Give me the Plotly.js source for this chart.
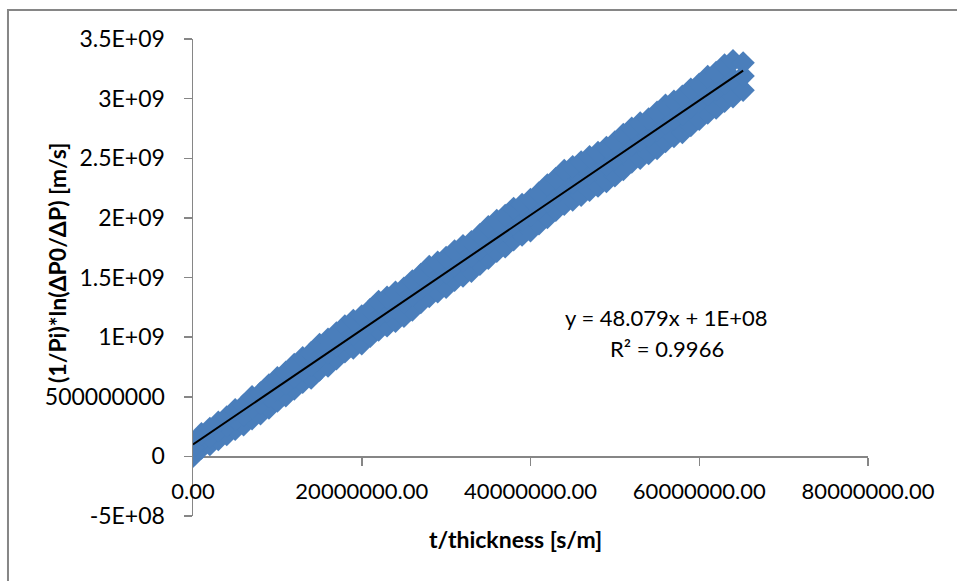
<!DOCTYPE html>
<html>
<head>
<meta charset="utf-8">
<script src="https://cdn.plot.ly/plotly-3.0.1.min.js"></script>
<style>html,body{margin:0;padding:0;background:#fff;}#chart{width:957px;height:581px;}</style>
</head>
<body>
<div id="chart"></div>
<script>
// t/thickness [s/m]
const xVals = [0,1e6,2e6,3e6,4e6,5e6,6e6,7e6,8e6,9e6,10e6,11e6,12e6,13e6,14e6,15e6,16e6,17e6,18e6,19e6,20e6,21e6,22e6,23e6,24e6,25e6,26e6,27e6,28e6,29e6,30e6,31e6,32e6,33e6,34e6,35e6,36e6,37e6,38e6,39e6,40e6,41e6,42e6,43e6,44e6,45e6,46e6,47e6,48e6,49e6,50e6,51e6,52e6,53e6,54e6,55e6,56e6,57e6,58e6,59e6,60e6,61e6,62e6,63e6,64e6,65.2e6];
// (1/Pi)*ln(dP0/dP) [m/s] — middle, upper and lower parts of the scatter band
const yMid = [0.030e9,0.128e9,0.166e9,0.214e9,0.257e9,0.310e9,0.348e9,0.407e9,0.445e9,0.503e9,0.561e9,0.609e9,0.667e9,0.725e9,0.763e9,0.831e9,0.869e9,0.927e9,0.985e9,1.024e9,1.062e9,1.120e9,1.178e9,1.216e9,1.254e9,1.292e9,1.350e9,1.408e9,1.466e9,1.504e9,1.542e9,1.600e9,1.639e9,1.677e9,1.735e9,1.793e9,1.851e9,1.889e9,1.947e9,1.985e9,2.023e9,2.081e9,2.139e9,2.197e9,2.255e9,2.294e9,2.332e9,2.370e9,2.408e9,2.446e9,2.494e9,2.552e9,2.610e9,2.648e9,2.686e9,2.734e9,2.792e9,2.830e9,2.869e9,2.927e9,2.975e9,3.033e9,3.071e9,3.129e9,3.167e9,3.190e9];
const yUpper = [0.075e9,0.190e9,0.235e9,0.287e9,0.330e9,0.392e9,0.430e9,0.500e9,0.532e9,0.600e9,0.660e9,0.706e9,0.770e9,0.828e9,0.870e9,0.938e9,0.982e9,1.035e9,1.093e9,1.140e9,1.178e9,1.232e9,1.300e9,1.334e9,1.377e9,1.410e9,1.472e9,1.526e9,1.593e9,1.628e9,1.668e9,1.722e9,1.766e9,1.800e9,1.858e9,1.925e9,1.978e9,2.020e9,2.080e9,2.113e9,2.155e9,2.208e9,2.277e9,2.330e9,2.398e9,2.430e9,2.470e9,2.512e9,2.548e9,2.590e9,2.636e9,2.700e9,2.752e9,2.795e9,2.830e9,2.886e9,2.944e9,2.978e9,3.020e9,3.080e9,3.122e9,3.185e9,3.220e9,3.282e9,3.318e9,3.300e9];
const yLower = [0.000e9,0.070e9,0.100e9,0.142e9,0.184e9,0.228e9,0.265e9,0.315e9,0.357e9,0.405e9,0.463e9,0.508e9,0.565e9,0.622e9,0.656e9,0.724e9,0.757e9,0.818e9,0.876e9,0.908e9,0.945e9,1.006e9,1.060e9,1.094e9,1.133e9,1.174e9,1.228e9,1.290e9,1.340e9,1.381e9,1.418e9,1.477e9,1.512e9,1.553e9,1.611e9,1.662e9,1.720e9,1.757e9,1.816e9,1.855e9,1.892e9,1.950e9,2.003e9,2.064e9,2.114e9,2.150e9,2.190e9,2.232e9,2.266e9,2.304e9,2.352e9,2.405e9,2.468e9,2.500e9,2.540e9,2.582e9,2.640e9,2.682e9,2.716e9,2.775e9,2.826e9,2.880e9,2.922e9,2.978e9,3.015e9,3.070e9];

// Excel linear trendline
const trendSlope = 48.079;
const trendIntercept = 1e8;
const equationText = "y = 48.079x + 1E+08";
const r2Text = "R² = 0.9966";

const xTickVals = [0, 20000000, 40000000, 60000000, 80000000];
const xTickText = ["0.00", "20000000.00", "40000000.00", "60000000.00", "80000000.00"];
const yTickVals = [-5e8, 0, 5e8, 1e9, 1.5e9, 2e9, 2.5e9, 3e9, 3.5e9];
const yTickText = ["-5E+08", "0", "500000000", "1E+09", "1.5E+09", "2E+09", "2.5E+09", "3E+09", "3.5E+09"];

const xTitle = "t/thickness [s/m]";
const yTitle = "(1/Pi)*ln(ΔP0/ΔP) [m/s]";

const allX = xVals.concat(xVals, xVals);
const allY = yLower.concat(yMid, yUpper);
const xMin = Math.min(...xVals), xMax = Math.max(...xVals);

const FONT = "Lato, 'Open Sans', sans-serif";
const BLUE = "#4a7ebb";
const AXIS = "#868686";

const traces = [
  {
    x: allX, y: allY, type: "scatter", mode: "markers",
    marker: {symbol: "diamond", size: 18, color: BLUE, line: {width: 0}},
    hoverinfo: "skip", showlegend: false
  },
  {
    x: [xMin, xMax],
    y: [trendSlope * xMin + trendIntercept, trendSlope * xMax + trendIntercept],
    type: "scatter", mode: "lines",
    line: {color: "#000000", width: 2},
    hoverinfo: "skip", showlegend: false
  }
];

const layout = {
  width: 957, height: 581,
  margin: {l: 193, r: 89, t: 39, b: 65, pad: 0},
  paper_bgcolor: "#ffffff", plot_bgcolor: "#ffffff",
  font: {family: FONT, size: 22, color: "#000000"},
  showlegend: false,
  xaxis: {
    range: [0, 80000000], anchor: "free", position: 0.125,
    showgrid: false, zeroline: false,
    showline: true, linecolor: AXIS, linewidth: 1.5,
    ticks: "outside", ticklen: 8, tickwidth: 1.5, tickcolor: AXIS,
    tickvals: xTickVals, ticktext: xTickText,
    tickfont: {family: FONT, size: 22, color: "#000"},
    ticklabelstandoff: 7,
    layer: "below traces"
  },
  yaxis: {
    range: [-5e8, 3.5e9],
    showgrid: false, zeroline: false,
    showline: true, linecolor: AXIS, linewidth: 1.5,
    ticks: "outside", ticklen: 8, tickwidth: 1.5, tickcolor: AXIS,
    tickvals: yTickVals, ticktext: yTickText,
    tickfont: {family: FONT, size: 23, color: "#000"},
    ticklabelstandoff: 14,
    layer: "below traces"
  },
  shapes: [
    {type: "rect", xref: "paper", yref: "paper", x0: -0.2741, x1: 2, y0: -2, y1: 1.0608,
     line: {color: AXIS, width: 2}, fillcolor: "rgba(0,0,0,0)", layer: "below"}
  ],
  annotations: [
    {text: equationText, xref: "paper", yref: "paper", x: 0.7022, y: 0.4151,
     xanchor: "center", yanchor: "middle", showarrow: false, font: {family: FONT, size: 22, color: "#000"}},
    {text: r2Text, xref: "paper", yref: "paper", x: 0.7022, y: 0.3522,
     xanchor: "center", yanchor: "middle", showarrow: false, font: {family: FONT, size: 22, color: "#000"}},
    {text: "<b>" + xTitle + "</b>", xref: "paper", yref: "paper", x: 0.4785, y: -0.0482,
     xanchor: "center", yanchor: "middle", showarrow: false, font: {family: FONT, size: 23, color: "#000"}},
    {text: "<b>" + yTitle + "</b>", xref: "paper", yref: "paper", x: -0.2015, y: 0.5304, textangle: -90,
     xanchor: "center", yanchor: "middle", showarrow: false, font: {family: FONT, size: 23, color: "#000"}}
  ]
};

Plotly.newPlot("chart", traces, layout, {staticPlot: true, displayModeBar: false});
</script>
</body>
</html>
